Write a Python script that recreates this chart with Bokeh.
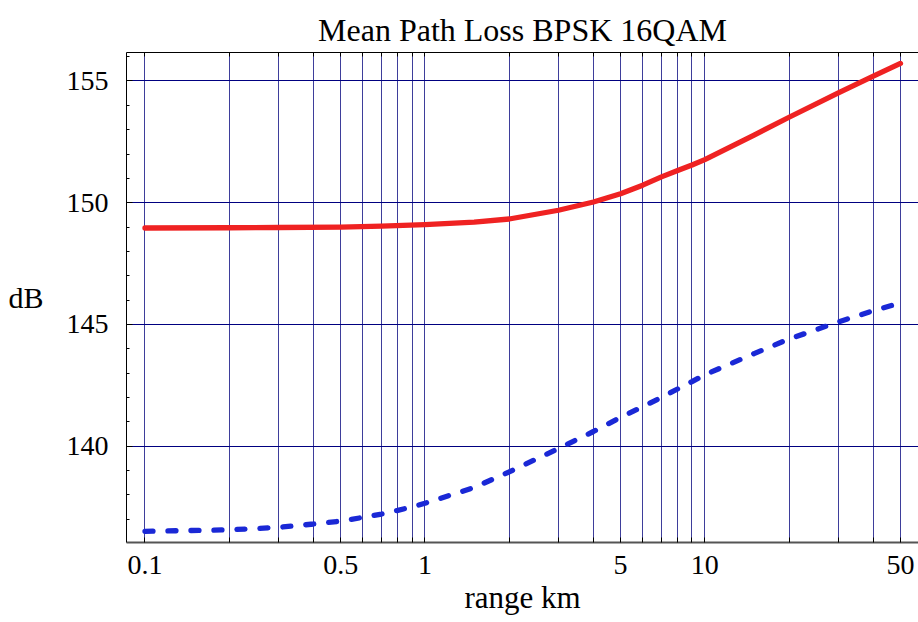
from bokeh.plotting import figure
from bokeh.models import Range1d, FixedTicker, LogAxis
from bokeh.embed import file_html
from bokeh.resources import INLINE

# Data
km_red = [0.1, 0.2, 0.3, 0.5, 0.7, 1, 1.5, 2, 3, 4, 5, 6, 7, 8, 9, 10, 15, 20, 30, 40, 50]
loss_red = [148.96, 148.97, 148.98, 149.0, 149.04, 149.1, 149.2, 149.33, 149.69, 150.03,
            150.37, 150.72, 151.06, 151.32, 151.55, 151.77, 152.78, 153.51, 154.51, 155.2, 155.72]

km_blue = [0.1, 0.2, 0.3, 0.4, 0.5, 0.6, 0.7, 0.8, 0.9, 1, 1.5, 2, 3, 4, 5, 6, 7, 8, 9, 10,
           15, 20, 30, 40, 50]
loss_blue = [136.5, 136.56, 136.66, 136.8, 136.92, 137.07, 137.21, 137.36, 137.5, 137.65,
             138.3, 138.94, 139.9, 140.6, 141.18, 141.62, 142.0, 142.35, 142.65, 142.93,
             143.8, 144.4, 145.1, 145.56, 145.88]

x_labels = [0.1, 0.5, 1, 5, 10, 50]
x_grid = [0.1, 0.2, 0.3, 0.4, 0.5, 0.6, 0.7, 0.8, 0.9, 1, 2, 3, 4, 5, 6, 7, 8, 9, 10,
          20, 30, 40, 50]
y_major = [140, 145, 150, 155]
y_minor = list(range(137, 157))

FONT = "Liberation Serif"

p = figure(width=918, height=622, x_axis_type="log",
           x_range=Range1d(0.0859, 58.0), y_range=Range1d(136.04, 156.17),
           output_backend="svg", toolbar_location=None,
           min_border_left=126, min_border_right=0, min_border_top=52, min_border_bottom=80,
           title="Mean Path Loss BPSK 16QAM")

p.title.text_font = FONT
p.title.text_font_size = "32px"
p.title.text_font_style = "normal"
p.title.align = "center"
p.title.text_color = "black"

p.outline_line_color = None
p.background_fill_color = "white"
p.border_fill_color = "white"

# x axis
xa = p.xaxis[0]
xa.ticker = FixedTicker(ticks=x_labels, minor_ticks=[v for v in x_grid if v not in x_labels])
xa.major_label_overrides = {0.1: "0.1", 0.5: "0.5", 1: "1", 5: "5", 10: "10", 50: "50"}
xa.axis_label = "range km"
xa.axis_label_text_font = FONT
xa.axis_label_text_font_size = "31px"
xa.axis_label_text_font_style = "normal"
xa.axis_label_text_color = "black"
xa.major_label_text_font = FONT
xa.major_label_text_font_size = "28px"
xa.major_label_text_color = "black"
xa.major_tick_in = 5
xa.major_tick_out = 0
xa.minor_tick_in = 5
xa.minor_tick_out = 0
xa.major_tick_line_color = "black"
xa.minor_tick_line_color = "black"
xa.major_label_standoff = 13
xa.axis_label_standoff = 3
xa.axis_line_color = "#555555"
xa.axis_line_width = 2

# y axis
ya = p.yaxis[0]
ya.ticker = FixedTicker(ticks=y_major, minor_ticks=y_minor)
ya.major_label_text_font = FONT
ya.major_label_text_font_size = "28px"
ya.major_label_text_color = "black"
ya.major_tick_in = 6
ya.major_tick_out = 0
ya.minor_tick_in = 3
ya.minor_tick_out = 0
ya.major_tick_line_color = "black"
ya.minor_tick_line_color = "black"
ya.axis_line_color = "black"
ya.major_label_standoff = 18
ya.axis_label = "dB"
ya.axis_label_orientation = "horizontal"
ya.axis_label_text_font = FONT
ya.axis_label_text_font_size = "30px"
ya.axis_label_text_font_style = "normal"
ya.axis_label_text_color = "black"
ya.axis_label_standoff = 20

# top frame edge with tick marks
top = LogAxis(ticker=FixedTicker(ticks=[], minor_ticks=x_grid))
top.minor_tick_in = 4
top.minor_tick_out = 0
top.minor_tick_line_color = "black"
top.major_tick_in = 0
top.major_tick_out = 0
top.axis_line_color = "black"
top.major_label_text_font_size = "0px"
p.add_layout(top, "above")

# grids
p.xgrid.ticker = FixedTicker(ticks=x_grid)
p.xgrid.grid_line_color = "#1c1c8a"
p.xgrid.grid_line_alpha = 0.85
p.xgrid.grid_line_width = 1
p.ygrid.ticker = FixedTicker(ticks=y_major)
p.ygrid.grid_line_color = "#000080"
p.ygrid.grid_line_width = 1

# curves
p.line(km_red, loss_red, line_color="#ef2222", line_width=5.3, line_cap="round", line_join="round")
p.line(km_blue, loss_blue, line_color="#1a28d6", line_width=5.3, line_cap="round",
       line_dash="8 15")

open("out.html", "w").write(file_html(p, INLINE))
